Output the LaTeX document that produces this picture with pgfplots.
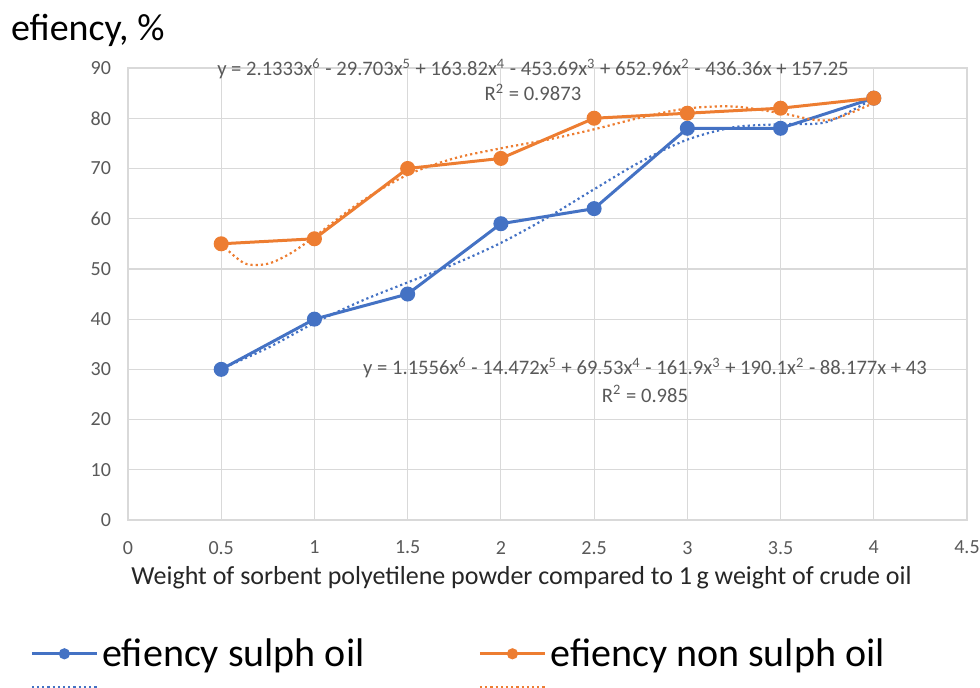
\documentclass[border=0pt]{standalone}
\usepackage{fontspec}
\setmainfont{Carlito}
\usepackage{pgfplots}
\pgfplotsset{compat=1.18}
\definecolor{sblue}{HTML}{4472C4}
\definecolor{sorange}{HTML}{ED7D31}
\definecolor{tgray}{HTML}{595959}
\definecolor{ggray}{HTML}{D9D9D9}
\begin{document}
\begin{tikzpicture}
\path[use as bounding box] (-64pt,-83.5pt) rectangle (426pt,260pt);
\begin{axis}[
  scale only axis, width=419.5pt, height=226pt,
  xmin=0, xmax=4.5, ymin=0, ymax=90,
  clip=false,
  xtick={0,0.5,...,4.5}, ytick={0,10,...,90},
  grid=major, major grid style={ggray, line width=0.6pt},
  axis line style={ggray, line width=0.6pt},
  major tick length=0pt,
  /pgf/number format/assume math mode=true,
  ticklabel style={font=\fontsize{10}{12}\selectfont, text=tgray},
  xticklabel style={yshift=-7pt}, yticklabel style={xshift=-5pt},
  xlabel={Weight of sorbent polyetilene powder compared to 1\,g weight of crude oil},
  every axis x label/.style={at={(rel axis cs:0.5,0)}, anchor=center, xshift=-13pt, yshift=-29pt, font=\fontsize{13}{15}\selectfont, text=black!85},
  ylabel={efiency, \%},
  every axis y label/.style={at={(rel axis cs:0,1)}, anchor=west, xshift=-62pt, yshift=19pt, font=\fontsize{19}{23}\selectfont},
  legend columns=2,
  legend cell align=left,
  legend style={draw=none, fill=none, at={(rel axis cs:0,0)}, anchor=north west, xshift=-49pt, yshift=-57pt,
    font=\fontsize{20}{24}\selectfont, inner sep=0pt,
    /tikz/every even column/.append style={column sep=55pt}, row sep=4pt},
  legend image code/.code={\draw[mark repeat=2,mark phase=2,#1] plot coordinates {(0pt,0pt)(16.25pt,0pt)(32.5pt,0pt)};},
  legend image post style={mark size=2pt},
]
\addplot[sblue, line width=1.5pt, mark=*, mark size=3pt] coordinates {
 (0.5,30) (1,40) (1.5,45) (2,59) (2.5,62) (3,78) (3.5,78) (4,84)};
\addlegendentry{efiency sulph oil}
\addplot[sorange, line width=1.5pt, mark=*, mark size=3pt] coordinates {
 (0.5,55) (1,56) (1.5,70) (2,72) (2.5,80) (3,81) (3.5,82) (4,84)};
\addlegendentry{efiency non sulph oil}
\addplot[sblue, line width=1.1pt, dash pattern=on 1.1pt off 1.5pt, smooth] coordinates {
 (0.5,30.11) (0.75,34.27) (1,39.24) (1.25,43.59) (1.5,47.31) (1.75,50.97) (2,55.18)
 (2.25,60.23) (2.5,65.86) (2.75,71.35) (3,75.74) (3.25,78.21) (3.5,78.82) (3.75,79.27) (4,83.98)};
\addlegendentry{}
\addplot[sorange, line width=1.1pt, dash pattern=on 1.1pt off 1.5pt, smooth] coordinates {
 (0.5,54.94) (0.625,51.12) (0.75,51.03) (0.875,53.17) (1,56.41) (1.25,63.38) (1.5,68.75) (1.75,72.02)
 (2,74.01) (2.25,75.73) (2.5,77.80) (2.75,80.13) (3,81.95) (3.25,82.34) (3.5,81.03) (3.75,79.59) (4,83.06)};
\addlegendentry{}
\node[font=\fontsize{10.3}{12}\selectfont, text=tgray] at (axis cs:2.172,89.9)
 {y = 2.1333x\textsuperscript{6} - 29.703x\textsuperscript{5} + 163.82x\textsuperscript{4} - 453.69x\textsuperscript{3} + 652.96x\textsuperscript{2} - 436.36x + 157.25};
\node[font=\fontsize{10.3}{12}\selectfont, text=tgray] at (axis cs:2.172,85.2) {R\textsuperscript{2} = 0.9873};
\node[font=\fontsize{10.3}{12}\selectfont, text=tgray] at (axis cs:2.773,30.3)
 {y = 1.1556x\textsuperscript{6} - 14.472x\textsuperscript{5} + 69.53x\textsuperscript{4} - 161.9x\textsuperscript{3} + 190.1x\textsuperscript{2} - 88.177x + 43};
\node[font=\fontsize{10.3}{12}\selectfont, text=tgray] at (axis cs:2.773,25.1) {R\textsuperscript{2} = 0.985};
\end{axis}
\end{tikzpicture}
\end{document}
